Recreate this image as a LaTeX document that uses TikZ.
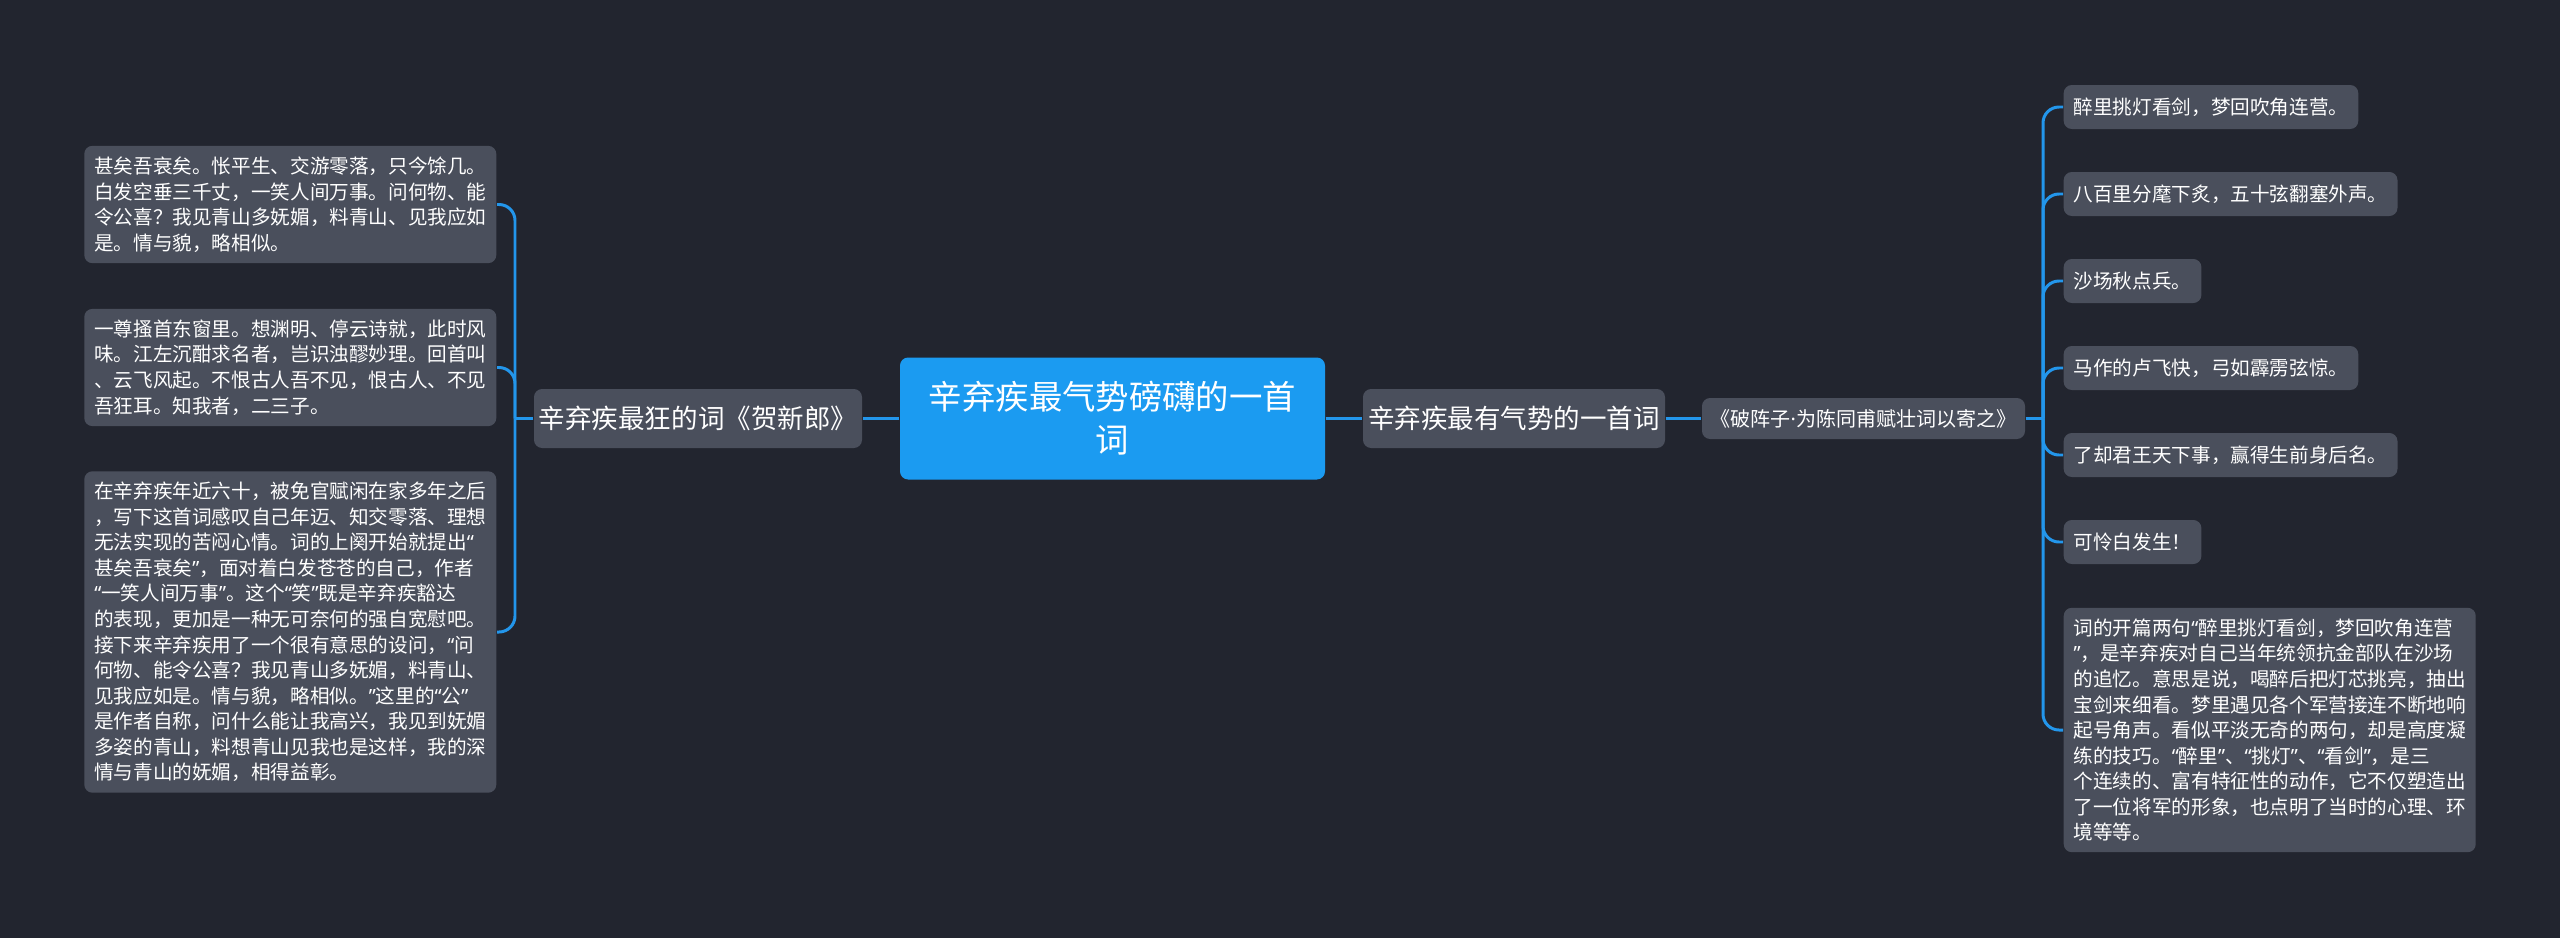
\documentclass[tikz,border=0pt]{standalone}
\usepackage{fontspec}
\setmainfont{Noto Sans CJK SC}
\newfontfamily\latinfont{Noto Sans}
\usetikzlibrary{positioning,calc}

\definecolor{bgnavy}{RGB}{34,37,47}
\definecolor{nodegray}{RGB}{74,79,92}
\definecolor{rootblue}{RGB}{27,155,241}
\definecolor{linkblue}{RGB}{35,150,235}

% narrow quote marks and middle dot
\newcommand{\qopen}{{\latinfont “}}
\newcommand{\qclose}{{\latinfont ”}}
\newcommand{\mdot}{{\latinfont ·}}

\begin{document}
\begin{tikzpicture}[
    box/.style={rounded corners=2.3pt,text=white,inner sep=0pt},
    root/.style={box,fill=rootblue,minimum width=4.25cm,minimum height=1.22cm,align=center,
      font=\fontsize{9.5pt}{12.2pt}\selectfont},
    topic/.style={box,fill=nodegray,minimum height=0.59cm,font=\fontsize{7.55pt}{9pt}\selectfont},
    leaf/.style={box,fill=nodegray,minimum height=0.44cm,inner xsep=0.1cm,anchor=west,
      font=\fontsize{5.58pt}{7.26pt}\selectfont},
    para/.style={leaf,text width=3.92cm,align=left,inner ysep=0.11cm},
    link/.style={draw=linkblue,line width=0.85pt,rounded corners=0.16cm}]
  \fill[bgnavy] (0,0) rectangle (25.6,-9.38);
  \useasboundingbox (0,0) rectangle (25.6,-9.38);

  \node[root] (root) at (11.125,-4.185) {辛弃疾最气势磅礴的一首\\词};
  \node[topic,minimum width=3.28cm] (kuang) at (6.98,-4.185) {辛弃疾最狂的词《贺新郎》};
  \node[topic,minimum width=3.02cm] (qishi) at (15.14,-4.185) {辛弃疾最有气势的一首词};
  \node[topic,minimum width=3.23cm,minimum height=0.41cm,font=\fontsize{5.7pt}{7pt}\selectfont]
    (pzz) at (18.635,-4.185) {《破阵子\mdot 为陈同甫赋壮词以寄之》};

  % left side: the poem and notes
  \node[para,anchor=east] (L1) at (4.97,-2.045) {甚矣吾衰矣。怅平生、交游零落，只今馀几。\\
    白发空垂三千丈，一笑人间万事。问何物、能\\
    令公喜？我见青山多妩媚，料青山、见我应如\\
    是。情与貌，略相似。};
  \node[para,anchor=east] (L2) at (4.97,-3.675) {一尊搔首东窗里。想渊明、停云诗就，此时风\\
    味。江左沉酣求名者，岂识浊醪妙理。回首叫\\
    、云飞风起。不恨古人吾不见，恨古人、不见\\
    吾狂耳。知我者，二三子。};
  \node[para,anchor=east] (L3) at (4.97,-6.32) {在辛弃疾年近六十，被免官赋闲在家多年之后\\
    ，写下这首词感叹自己年迈、知交零落、理想\\
    无法实现的苦闷心情。词的上阕开始就提出\qopen\\
    甚矣吾衰矣\qclose，面对着白发苍苍的自己，作者\\
    \qopen 一笑人间万事\qclose。这个\qopen 笑\qclose 既是辛弃疾豁达\\
    的表现，更加是一种无可奈何的强自宽慰吧。\\
    接下来辛弃疾用了一个很有意思的设问，\qopen 问\\
    何物、能令公喜？我见青山多妩媚，料青山、\\
    见我应如是。情与貌，略相似。\qclose 这里的\qopen 公\qclose\\
    是作者自称，问什么能让我高兴，我见到妩媚\\
    多姿的青山，料想青山见我也是这样，我的深\\
    情与青山的妩媚，相得益彰。};

  % right side: lines of the poem
  \node[leaf] (R1) at (20.63,-1.07) {醉里挑灯看剑，梦回吹角连营。};
  \node[leaf] (R2) at (20.63,-1.94) {八百里分麾下炙，五十弦翻塞外声。};
  \node[leaf] (R3) at (20.63,-2.81) {沙场秋点兵。};
  \node[leaf] (R4) at (20.63,-3.68) {马作的卢飞快，弓如霹雳弦惊。};
  \node[leaf] (R5) at (20.63,-4.55) {了却君王天下事，赢得生前身后名。};
  \node[leaf] (R6) at (20.63,-5.42) {可怜白发生！};
  \node[para] (R7) at (20.63,-7.30) {词的开篇两句\qopen 醉里挑灯看剑，梦回吹角连营\\
    \qclose，是辛弃疾对自己当年统领抗金部队在沙场\\
    的追忆。意思是说，喝醉后把灯芯挑亮，抽出\\
    宝剑来细看。梦里遇见各个军营接连不断地响\\
    起号角声。看似平淡无奇的两句，却是高度凝\\
    练的技巧。\qopen 醉里\qclose、\qopen 挑灯\qclose、\qopen 看剑\qclose，是三\\
    个连续的、富有特征性的动作，它不仅塑造出\\
    了一位将军的形象，也点明了当时的心理、环\\
    境等等。};

  % connectors
  \coordinate (lj) at (5.15,-4.185);
  \coordinate (rj) at (20.43,-4.185);
  \draw[link] (root.west) -- (kuang.east);
  \draw[link] (root.east) -- (qishi.west);
  \draw[link] (qishi.east) -- (pzz.west);
  \draw[link] (kuang.west) -- (lj);
  \foreach \n in {L1,L2,L3}
    \draw[link] (lj) |- (\n.east);
  \draw[link] (pzz.east) -- (rj);
  \foreach \n in {R1,R2,R3,R4,R5,R6,R7}
    \draw[link] (rj) |- (\n.west);
\end{tikzpicture}
\end{document}
